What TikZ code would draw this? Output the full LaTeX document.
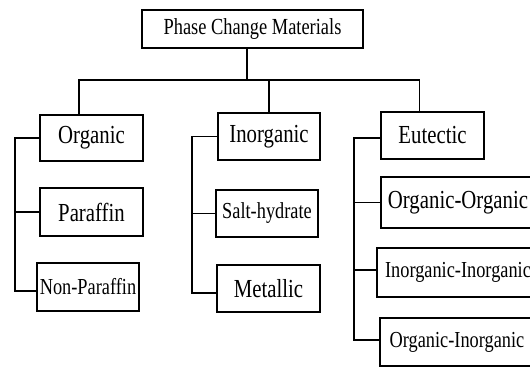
\documentclass[tikz,border=0pt]{standalone}
\usepackage{fontspec}
\setmainfont[FakeStretch=0.8]{Liberation Serif}
\usepackage{tikz}
\usetikzlibrary{positioning, calc}
\tikzset{
	bigtext/.style={font=\fontsize{26}{28}\selectfont}
}
\tikzset{
	smalltext/.style={font=\fontsize{22.9}{24}\selectfont}
}

\begin{document}
\begin{tikzpicture}[x=1pt, y=-1pt]

\tikzset{
    catnode/.style={
        shape=rectangle,
        draw=black,
        line width=1.7pt,
        fill=white,
        inner sep=0pt
    },
    link/.style={line width=1.2pt}
}

\useasboundingbox (0,0) rectangle (530,367);
\clip (0,0) rectangle (530,367);

\node[catnode, font=\fontsize{23}{24}\selectfont, minimum width=221pt, minimum height=38pt] (pcm) at (252.5,29) {Phase Change Materials};

\node[catnode, bigtext, minimum width=103pt, minimum height=46pt] (org) at (91.5,138) {Organic};
\node[catnode, bigtext, minimum width=103pt, minimum height=48pt] (par) at (91.5,212) {Paraffin};
\node[catnode, smalltext, minimum width=102pt, minimum height=48pt] (nonpar) at (88,287) {Non-Paraffin};

\node[catnode, bigtext, minimum width=102pt, minimum height=47pt] (inorg) at (269,136.5) {Inorganic};
\node[catnode, smalltext, minimum width=102pt, minimum height=47pt] (salt) at (267,213.5) {Salt-hydrate};
\node[catnode, bigtext, minimum width=103pt, minimum height=47pt] (metal) at (268.5,288.5) {Metallic};

\node[catnode, bigtext, minimum width=103pt, minimum height=47pt] (eut) at (432.5,135.5) {Eutectic};
\node[catnode, bigtext, minimum width=154pt, minimum height=51pt] (oo) at (458,202.5) {Organic-Organic};
\node[catnode, smalltext, minimum width=162pt, minimum height=49pt] (ii) at (458,272.5) {Inorganic-Inorganic};
\node[catnode, smalltext, minimum width=154pt, minimum height=48pt] (oi) at (457,342) {Organic-Inorganic};

\coordinate (bar) at (247,80);
\coordinate (orgbus) at (15,138);
\coordinate (inorgbus) at (192,136.5);
\coordinate (eutbus) at (354,135.5);

\draw[link] ([xshift=-5.5pt]pcm.south) -- (bar);
\draw[line width=1.7pt] ([xshift=-12.5pt]org.north) |- (bar) -| ([xshift=-13pt]eut.north);
\draw[link] (inorg.north) -- (inorg.north |- bar);

\draw[link] (org.west) -- (orgbus) |- ([yshift=-4pt]nonpar.west);
\draw[link] (orgbus |- par.west) -- (par.west);

\draw[link] (inorg.west) -- (inorgbus) |- ([yshift=-4.5pt]metal.west);
\draw[link] (inorgbus |- salt.west) -- (salt.west);

\draw[link] ([yshift=-2.5pt]eut.west) -- ([yshift=-2.5pt]eutbus) |- ([yshift=2pt]oi.west);
\draw[link] (eutbus |- oo.west) -- (oo.west);
\draw[link] ([yshift=2.5pt]eutbus |- ii.west) -- ([yshift=2.5pt]ii.west);
\end{tikzpicture}
\end{document}
